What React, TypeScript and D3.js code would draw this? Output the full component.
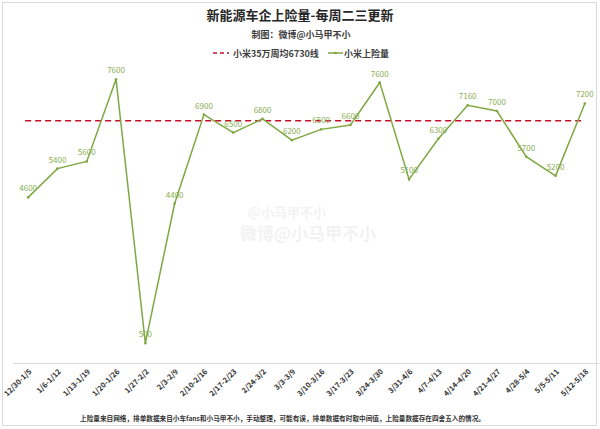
import React from "react";
import * as d3 from "d3";

const categories = [
  "12/30-1/5", "1/6-1/12", "1/13-1/19", "1/20-1/26", "1/27-2/2", "2/3-2/9",
  "2/10-2/16", "2/17-2/23", "2/24-3/2", "3/3-3/9", "3/10-3/16", "3/17-3/23",
  "3/24-3/30", "3/31-4/6", "4/7-4/13", "4/14-4/20", "4/21-4/27", "4/28-5/4",
  "5/5-5/11", "5/12-5/18",
];
// plotted values (as positioned in the picture)
const xiaomiValues = [
  4600, 5400, 5600, 7880, 550, 4430, 6900, 6400, 6780, 6190, 6490, 6610,
  7790, 5100, 6230, 7160, 7000, 5730, 5200, 7210,
];
// data-label texts as printed
const xiaomiLabels = [
  "4600", "5400", "5600", "7600", "500", "4400", "6900", "6500", "6800", "6200",
  "6500", "6600", "7600", "5100", "6300", "7160", "7000", "5700", "5200", "7200",
];
const refValue = 6730;
const yDomain = [0, 8000];

const title = "新能源车企上险量-每周二三更新";
const subtitle = "制图：微博@小马甲不小";
const legendRef = "小米35万周均6730线";
const legendLine = "小米上险量";
const footnote =
  "上险量来自网络，排单数据来自小车fans和小马甲不小，手动整理，可能有误，排单数据有时取中间值，上险量数据存在四舍五入的情况。";
const watermark = "微博@小马甲不小";

const W = 600;
const H = 429;
const FONT = "'Noto Sans CJK SC', 'Noto Sans', sans-serif";

export default function App() {
  const x = d3.scaleBand<string>().domain(categories).range([13.5, 599.5]);
  const cx = (c: string) => (x(c) as number) + x.bandwidth() / 2;
  const y = d3.scaleLinear().domain(yDomain).range([363, 75]);

  const line = d3
    .line<number>()
    .x((_, i) => cx(categories[i]))
    .y((d) => y(d));

  const lineColor = "#7fa843";
  const labelColor = "#8aae52";
  const refColor = "#c8102e";

  return (
    <svg
      width={W}
      height={H}
      style={{ position: "absolute", left: 0, top: 0, background: "#fff" }}
      fontFamily={FONT}
    >
      <rect x={0} y={0} width={W} height={H} fill="#fff" />
      <rect x={2.5} y={2.5} width={594} height={423} fill="none" stroke="#d9d9d9" />
      {/* title */}
      <text x={300} y={20} textAnchor="middle" fontSize={13} fontWeight="bold" fill="#262626">
        {title}
      </text>
      <text x={301} y={38} textAnchor="middle" fontSize={9} fontWeight="bold" fill="#404040">
        {subtitle}
      </text>
      {/* legend */}
      <line x1={213} x2={229} y1={53} y2={53} stroke={refColor} strokeWidth={1.5} strokeDasharray="4,3" />
      <text x={233} y={56.5} fontSize={9} fontWeight="bold" fill="#404040">
        {legendRef}
      </text>
      <line x1={328} x2={343} y1={53} y2={53} stroke={lineColor} strokeWidth={1.5} />
      <circle cx={335.5} cy={53} r={1.3} fill={lineColor} />
      <text x={344} y={56.5} fontSize={9} fontWeight="bold" fill="#404040">
        {legendLine}
      </text>

      {/* watermark */}
      <g opacity={0.07} fill="#555" fontWeight="bold">
        <text x={248} y={217} fontSize={13}>@小马甲不小</text>
        <text x={240} y={240} fontSize={17}>{watermark}</text>
      </g>

      {/* axis line */}
      <line x1={13.5} x2={599.5} y1={363.5} y2={363.5} stroke="#d9d9d9" strokeWidth={1} />

      {/* reference line */}
      <line
        x1={cx(categories[0]) - 3}
        x2={cx(categories[categories.length - 1])}
        y1={y(refValue)}
        y2={y(refValue)}
        stroke={refColor}
        strokeWidth={1.5}
        strokeDasharray="6,4"
      />

      {/* series */}
      <path d={line(xiaomiValues) || ""} fill="none" stroke={lineColor} strokeWidth={1.5} />
      {xiaomiValues.map((v, i) => (
        <circle key={"p" + i} cx={cx(categories[i])} cy={y(v)} r={1.3} fill={lineColor} />
      ))}
      {xiaomiValues.map((v, i) => (
        <text
          key={"l" + i}
          x={cx(categories[i])}
          y={y(v) - 6}
          textAnchor="middle"
          fontSize={8}
          fill={labelColor}
        >
          {xiaomiLabels[i]}
        </text>
      ))}

      {/* x tick labels */}
      {categories.map((c) => (
        <text
          key={c}
          transform={`translate(${cx(c) + 4},${372}) rotate(-45)`}
          textAnchor="end"
          fontSize={7.5}
          fontWeight="bold"
          fill="#333"
        >
          {c}
        </text>
      ))}

      {/* footnote */}
      <text x={80} y={421} fontSize={6.8} fontWeight="bold" fill="#333" textLength={405} lengthAdjust="spacingAndGlyphs">
        {footnote}
      </text>
    </svg>
  );
}
